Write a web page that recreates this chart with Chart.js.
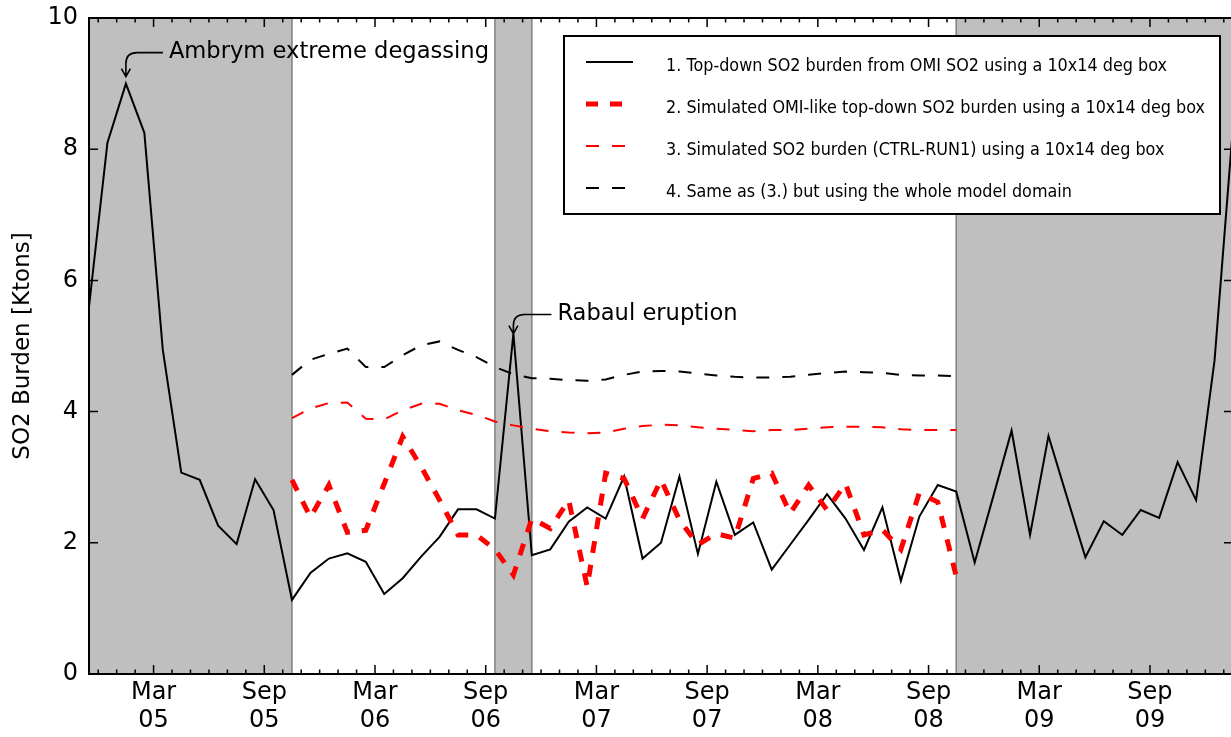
<!DOCTYPE html>
<html>
<head>
<meta charset="utf-8">
<script src="https://cdn.jsdelivr.net/npm/chart.js@4.4.1/dist/chart.umd.min.js"></script>
<style>
  html, body { margin: 0; padding: 0; background: #fff; overflow: hidden; }
  #wrap { position: relative; width: 1236px; height: 737px; }
</style>
</head>
<body>
<div id="wrap"><canvas id="c" width="1236" height="737"></canvas></div>
<script>
// Month index 0 = January 2005; monthly values are plotted at mid-month.
const omiStartMonth = -2; // November 2004
const omiTopDown = [
  5.6, 8.1,
  9.0, 8.25, 4.94, 3.07, 2.96, 2.26, 1.98, 2.97, 2.5, 1.13, 1.54, 1.76,
  1.84, 1.71, 1.22, 1.46, 1.79, 2.09, 2.51, 2.51, 2.37, 5.19, 1.81, 1.9,
  2.32, 2.54, 2.37, 3.01, 1.76, 2.0, 3.01, 1.83, 2.93, 2.12, 2.31, 1.59,
  1.97, 2.35, 2.74, 2.37, 1.89, 2.54, 1.42, 2.4, 2.88, 2.78, 1.70, 2.70,
  3.71, 2.12, 3.63, 2.70, 1.78, 2.33, 2.12, 2.5, 2.38, 3.23, 2.65, 4.78,
  8.35
];

const simStartMonth = 9; // October 2005
const simOmiLike = [
  2.96, 2.39, 2.88,
  2.16, 2.19, 2.9, 3.62, 3.16, 2.65, 2.12, 2.12, 1.9, 1.51, 2.37, 2.22,
  2.65, 1.33, 3.06, 2.98, 2.37, 2.96, 2.35, 1.97, 2.14, 2.07, 2.98, 3.06,
  2.45, 2.88, 2.5, 2.9, 2.12, 2.2, 1.9, 2.76, 2.62, 1.49
];
const simCtrlBox = [
  3.90, 4.05, 4.13,
  4.14, 3.89, 3.88, 4.02, 4.12, 4.12, 4.02, 3.95, 3.85, 3.79, 3.74, 3.70,
  3.68, 3.67, 3.68, 3.74, 3.78, 3.80, 3.79, 3.76, 3.74, 3.72, 3.70, 3.72,
  3.72, 3.74, 3.76, 3.77, 3.77, 3.76, 3.73, 3.72, 3.72, 3.72
];
const simCtrlDomain = [
  4.56, 4.79, 4.88,
  4.96, 4.68, 4.68, 4.86, 5.01, 5.07, 4.94, 4.83, 4.68, 4.57, 4.51, 4.50,
  4.48, 4.47, 4.49, 4.56, 4.61, 4.62, 4.61, 4.58, 4.55, 4.53, 4.52, 4.52,
  4.53, 4.56, 4.59, 4.61, 4.60, 4.59, 4.56, 4.55, 4.55, 4.54
];

const seriesLabels = [
  '1. Top-down SO2 burden from OMI SO2 using a 10x14 deg box',
  '2. Simulated OMI-like top-down SO2 burden using a 10x14 deg box',
  '3. Simulated SO2 burden (CTRL-RUN1) using a 10x14 deg box',
  '4. Same as (3.) but using the whole model domain'
];

const xTickMonth = [2, 8, 14, 20, 26, 32, 38, 44, 50, 56];
const xTickLabels = [
  ['Mar', '05'], ['Sep', '05'], ['Mar', '06'], ['Sep', '06'], ['Mar', '07'],
  ['Sep', '07'], ['Mar', '08'], ['Sep', '08'], ['Mar', '09'], ['Sep', '09']
];

// Shaded periods (month index, mid-month bounds)
const shadeFrom = [-1.5, 20.5, 45.5];
const shadeTo = [9.5, 22.5, 60.5];

// Annotated events: month index of the event in the OMI series
const noteText = ['Ambrym extreme degassing', 'Rabaul eruption'];
const noteMonth = [0, 21];

const FONT = '"DejaVu Sans", "Liberation Sans", sans-serif';

function toPoints(start, values) {
  return values.map((v, i) => ({ x: start + i + 0.5, y: v }));
}

const overlay = {
  id: 'overlay',
  beforeDatasetsDraw(chart) {
    const { ctx, chartArea: a, scales: { x } } = chart;
    ctx.save();
    for (let i = 0; i < shadeFrom.length; i++) {
      const x0 = x.getPixelForValue(shadeFrom[i]);
      const x1 = x.getPixelForValue(shadeTo[i]);
      ctx.fillStyle = '#bfbfbf';
      ctx.fillRect(x0, a.top, x1 - x0, a.bottom - a.top);
      ctx.strokeStyle = '#808080';
      ctx.lineWidth = 1.5;
      ctx.beginPath();
      ctx.moveTo(x0, a.top); ctx.lineTo(x0, a.bottom);
      ctx.moveTo(x1, a.top); ctx.lineTo(x1, a.bottom);
      ctx.stroke();
    }
    ctx.restore();
  },
  afterDatasetsDraw(chart) {
    const { ctx, chartArea: a, scales: { x, y } } = chart;
    ctx.save();
    // frame
    ctx.strokeStyle = '#000';
    ctx.lineWidth = 2;
    ctx.strokeRect(a.left, a.top, a.right - a.left, a.bottom - a.top);
    // inward tick marks
    ctx.lineWidth = 1.5;
    ctx.beginPath();
    y.ticks.forEach(t => {
      const py = y.getPixelForValue(t.value);
      ctx.moveTo(a.left, py); ctx.lineTo(a.left + 9, py);
      ctx.moveTo(a.right - 9, py); ctx.lineTo(a.right, py);
    });
    xTickMonth.forEach(m => {
      const px = x.getPixelForValue(m);
      ctx.moveTo(px, a.bottom); ctx.lineTo(px, a.bottom - 9);
      ctx.moveTo(px, a.top); ctx.lineTo(px, a.top + 9);
    });
    for (let m = Math.ceil(x.min); m <= x.max; m++) {
      if (xTickMonth.includes(m)) continue;
      const px = x.getPixelForValue(m);
      ctx.moveTo(px, a.bottom); ctx.lineTo(px, a.bottom - 4.5);
      ctx.moveTo(px, a.top); ctx.lineTo(px, a.top + 4.5);
    }
    ctx.stroke();

    // event annotations with bent arrows
    const noteGap = [7, 0];
    const noteDx = [43, 44];
    const noteDy = [-24, -19];
    ctx.fillStyle = '#000';
    ctx.font = '22.6px ' + FONT;
    ctx.textBaseline = 'middle';
    ctx.textAlign = 'left';
    for (let i = 0; i < noteText.length; i++) {
      const m = noteMonth[i];
      const v = omiTopDown[m - omiStartMonth];
      const tx = x.getPixelForValue(m + 0.5);
      const ty = y.getPixelForValue(v) - noteGap[i];
      const lx = tx + noteDx[i];
      const ly = ty + noteDy[i];
      ctx.fillText(noteText[i], lx, ly);
      const r = 11;
      ctx.lineWidth = 1.6;
      ctx.beginPath();
      ctx.moveTo(lx - 6, ly);
      ctx.lineTo(tx + r, ly);
      ctx.quadraticCurveTo(tx, ly, tx, ly + r);
      ctx.lineTo(tx, ty);
      ctx.moveTo(tx - 4.5, ty - 8);
      ctx.lineTo(tx, ty);
      ctx.lineTo(tx + 4.5, ty - 8);
      ctx.stroke();
    }

    // legend box
    const box = { l: 564, t: 36, r: 1220, b: 214 };
    ctx.fillStyle = '#fff';
    ctx.fillRect(box.l, box.t, box.r - box.l, box.b - box.t);
    ctx.strokeStyle = '#000';
    ctx.lineWidth = 2;
    ctx.strokeRect(box.l, box.t, box.r - box.l, box.b - box.t);
    ctx.font = '18px ' + FONT;
    const sx = 501 / ctx.measureText(seriesLabels[0]).width;
    const rowY = [62, 104, 146, 188];
    chart.data.datasets.forEach((ds, i) => {
      const yy = rowY[i];
      ctx.save();
      ctx.strokeStyle = ds.borderColor;
      ctx.lineWidth = ds.borderWidth;
      ctx.setLineDash(ds.borderDash || []);
      ctx.beginPath();
      ctx.moveTo(586, yy); ctx.lineTo(633, yy);
      ctx.stroke();
      ctx.restore();
      ctx.save();
      ctx.fillStyle = '#000';
      ctx.textBaseline = 'middle';
      ctx.scale(sx, 1);
      ctx.fillText(ds.label, 666 / sx, yy + 4);
      ctx.restore();
    });
    ctx.restore();
  }
};

new Chart(document.getElementById('c'), {
  type: 'line',
  data: {
    datasets: [
      { label: seriesLabels[0], data: toPoints(omiStartMonth, omiTopDown),
        borderColor: '#000000', borderWidth: 2, order: 4 },
      { label: seriesLabels[1], data: toPoints(simStartMonth, simOmiLike),
        borderColor: '#ff0000', borderWidth: 5, borderDash: [12, 12], order: 3 },
      { label: seriesLabels[2], data: toPoints(simStartMonth, simCtrlBox),
        borderColor: '#ff0000', borderWidth: 2, borderDash: [13, 13], order: 2 },
      { label: seriesLabels[3], data: toPoints(simStartMonth, simCtrlDomain),
        borderColor: '#000000', borderWidth: 2, borderDash: [13, 13], order: 1 }
    ]
  },
  options: {
    responsive: false,
    animation: false,
    events: [],
    elements: {
      point: { radius: 0 },
      line: { tension: 0, borderJoinStyle: 'miter', borderCapStyle: 'butt', fill: false }
    },
    layout: { padding: { left: 0, top: 18, right: 3, bottom: 0 } },
    plugins: { legend: { display: false }, tooltip: { enabled: false } },
    scales: {
      x: {
        type: 'linear',
        min: -1.5,
        max: 60.5,
        grid: { display: false, drawTicks: false },
        border: { display: false },
        afterBuildTicks: s => { s.ticks = xTickMonth.map(v => ({ value: v })); },
        afterFit: s => { s.height = 63; s.paddingLeft = 0; s.paddingRight = 0; },
        ticks: {
          autoSkip: false,
          maxRotation: 0,
          padding: 4,
          color: '#000',
          font: { family: FONT, size: 24, lineHeight: 1.2 },
          callback: (v, i) => xTickLabels[i]
        }
      },
      y: {
        min: 0,
        max: 10,
        grid: { display: false, drawTicks: false },
        border: { display: false },
        afterFit: s => { s.width = 89; s.paddingTop = 0; s.paddingBottom = 0; },
        ticks: {
          stepSize: 2,
          padding: 11,
          color: '#000',
          font: { family: FONT, size: 24 }
        },
        title: {
          display: true,
          text: 'SO2 Burden [Ktons]',
          color: '#000',
          font: { family: FONT, size: 23, lineHeight: 1.2 },
          padding: { top: 9, bottom: 0 }
        }
      }
    }
  },
  plugins: [overlay]
});
</script>
</body>
</html>
